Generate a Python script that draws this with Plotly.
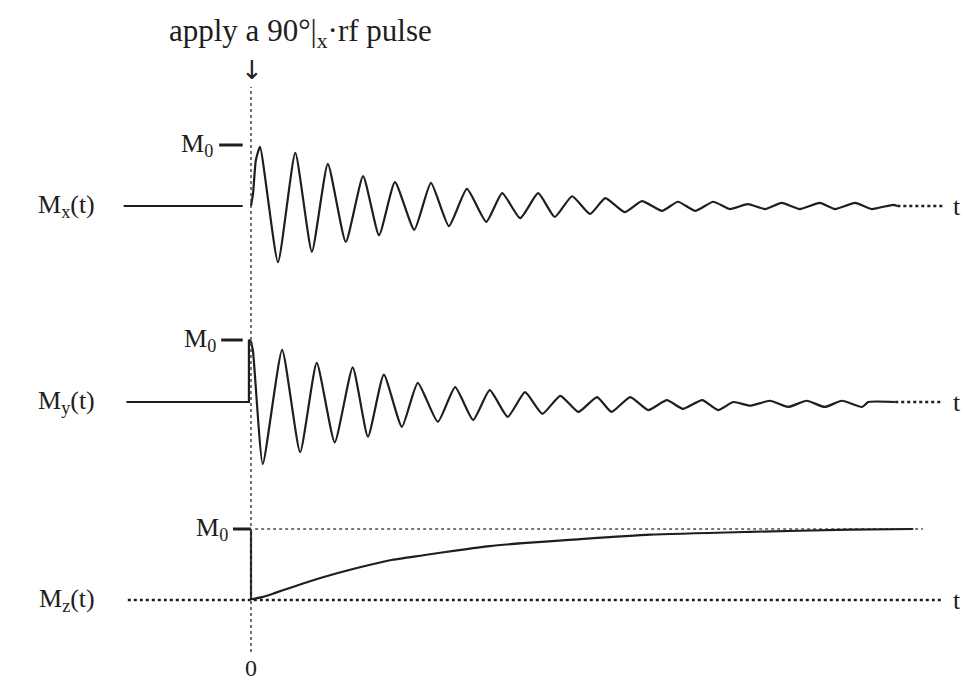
import plotly.graph_objects as go

# ---------------- data (time in arbitrary units, t=0 at the pulse; M in units of M0) -------------
# Mx(t): free induction decay (starts at 0)
mx_t = [0.00, 0.03, 0.07, 0.13, 0.39, 0.64, 0.88, 1.11, 1.37, 1.62, 1.85, 2.08, 2.36, 2.60, 2.86,
        3.12, 3.40, 3.63, 3.89, 4.15, 4.39, 4.64, 4.90, 5.12, 5.40, 5.65, 5.94, 6.17, 6.42, 6.68,
        6.92, 7.18, 7.43, 7.67, 7.93, 8.22, 8.44, 8.73, 8.97, 9.28, 9.34]
mx_v = [0.00, 0.21, 0.75, 0.97, -0.92, 0.87, -0.75, 0.69, -0.59, 0.49, -0.48, 0.39, -0.39, 0.38, -0.33,
        0.28, -0.26, 0.21, -0.20, 0.21, -0.18, 0.16, -0.13, 0.13, -0.10, 0.08, -0.08, 0.07, -0.08, 0.07,
        -0.05, 0.03, -0.05, 0.05, -0.05, 0.05, -0.05, 0.05, -0.05, 0.02, 0.00]

# My(t): starts at M0
my_t = [0.00, 0.03, 0.17, 0.45, 0.71, 0.95, 1.21, 1.47, 1.69, 1.92, 2.18, 2.41, 2.70, 2.95, 3.21,
        3.45, 3.71, 3.96, 4.21, 4.47, 4.73, 5.00, 5.21, 5.48, 5.74, 6.01, 6.24, 6.52, 6.75, 6.97,
        7.21, 7.50, 7.76, 8.03, 8.29, 8.54, 8.83, 8.92, 9.31]
my_v = [0.98, 0.81, -1.00, 0.84, -0.81, 0.63, -0.65, 0.56, -0.56, 0.44, -0.40, 0.31, -0.32, 0.24, -0.29,
        0.19, -0.24, 0.16, -0.19, 0.10, -0.16, 0.08, -0.16, 0.08, -0.13, 0.03, -0.11, 0.03, -0.13, 0.00,
        -0.06, 0.02, -0.08, 0.02, -0.08, 0.02, -0.08, 0.00, 0.00]

# Mz(t): recovery towards M0
mz_t = [0.00, 0.16, 0.35, 0.56, 1.04, 1.53, 2.01, 2.49, 2.98, 3.45, 3.93, 4.65, 5.77, 7.21, 8.66, 9.57]
mz_v = [0.01, 0.04, 0.10, 0.17, 0.32, 0.45, 0.56, 0.63, 0.70, 0.76, 0.80, 0.85, 0.92, 0.96, 0.99, 1.00]

t_start = -1.84      # start of the pre-pulse baselines
t_end = 10.0         # end of the traces
t_mx_pre_end = -0.12
t_mz_ref_start = 0.06
t_mz_ref_end = 9.71

# ---------------- layout helpers -------------
W, H = 963, 685
px_per_t = 69.2
x0_px = 251
x_range = [-x0_px / px_per_t, (W - x0_px) / px_per_t]


def y_range(base_px, m0_px):
    s = base_px - m0_px
    return [-(H - base_px) / s, base_px / s]


INK = "#1e1e1e"
FONT = "Liberation Serif"

fig = go.Figure()

line = dict(color=INK, width=2.2)
dotted = dict(color=INK, width=2.4, dash="dot")
dotted_light = dict(color="#777777", width=2, dash="dot")

# Mx
fig.add_trace(go.Scatter(x=[t_start, t_mx_pre_end], y=[0, 0], mode="lines", line=line, yaxis="y"))
fig.add_trace(go.Scatter(x=mx_t, y=mx_v, mode="lines", line=dict(line, shape="spline", smoothing=0.5),
                         yaxis="y"))
fig.add_trace(go.Scatter(x=[mx_t[-1], t_end], y=[0, 0], mode="lines", line=dotted, yaxis="y"))

# My
fig.add_trace(go.Scatter(x=[t_start + 0.04, -0.03, -0.03, 0.0], y=[0, 0, 1.0, my_v[0]], mode="lines",
                         line=line, yaxis="y2"))
fig.add_trace(go.Scatter(x=my_t, y=my_v, mode="lines", line=dict(line, shape="spline", smoothing=0.5),
                         yaxis="y2"))
fig.add_trace(go.Scatter(x=[my_t[-1], t_end], y=[0, 0], mode="lines", line=dotted, yaxis="y2"))

# Mz
fig.add_trace(go.Scatter(x=[t_start + 0.06, t_end], y=[0, 0], mode="lines", line=dotted, yaxis="y3"))
fig.add_trace(go.Scatter(x=[t_mz_ref_start, t_mz_ref_end], y=[1, 1], mode="lines", line=dotted_light,
                         yaxis="y3"))
fig.add_trace(go.Scatter(x=[0, 0], y=[1, 0], mode="lines", line=line, yaxis="y3"))
fig.add_trace(go.Scatter(x=mz_t, y=mz_v, mode="lines", line=dict(line, shape="spline", smoothing=0.6),
                         yaxis="y3"))

# M0 tick dashes
for yref, a, b in [("y", -0.46, -0.12), ("y2", -0.43, -0.12), ("y3", -0.26, 0.0)]:
    fig.add_shape(type="line", xref="x", yref=yref, x0=a, x1=b, y0=1, y1=1,
                  line=dict(color=INK, width=3))

# vertical dotted line at t = 0
fig.add_shape(type="line", xref="x", yref="paper", x0=0, x1=0, y0=1 - 652 / H, y1=1 - 87 / H,
              line=dict(color="#444444", width=1.5, dash="dot"))

# labels
lab = dict(family=FONT, size=26, color=INK)
for yref, name in [("y", "x"), ("y2", "y"), ("y3", "z")]:
    fig.add_annotation(x=-2.22, y=0, xref="x", yref=yref, text=f"M<sub>{name}</sub>(t)",
                       showarrow=False, xanchor="right", yanchor="middle", font=lab)
    fig.add_annotation(x=1.0, y=0, xref="paper", yref=yref, text="t", showarrow=False,
                       xanchor="right", yanchor="middle", font=lab)
for yref, xr in [("y", -0.52), ("y2", -0.47), ("y3", -0.31)]:
    fig.add_annotation(x=xr, y=1, xref="x", yref=yref, text="M<sub>0</sub>", showarrow=False,
                       xanchor="right", yanchor="middle", font=lab)

fig.add_annotation(x=0, y=1 - 668 / H, xref="x", yref="paper", text="0", showarrow=False,
                   xanchor="center", yanchor="middle", font=dict(family=FONT, size=24, color=INK))
fig.add_annotation(x=0.02, y=1 - 70 / H, xref="x", yref="paper", text="↓", showarrow=False,
                   xanchor="center", yanchor="middle", font=dict(family="DejaVu Sans", size=26, color=INK))
fig.add_annotation(x=0.71, y=1 - 33 / H, xref="x", yref="paper",
                   text="apply a 90°|<sub>x</sub>·rf pulse", showarrow=False,
                   xanchor="center", yanchor="middle", font=dict(family=FONT, size=31, color=INK))

hidden = dict(visible=False, showgrid=False, zeroline=False, fixedrange=True)
fig.update_layout(
    width=W, height=H,
    margin=dict(l=0, r=0, t=0, b=0),
    paper_bgcolor="white", plot_bgcolor="white",
    showlegend=False,
    xaxis=dict(hidden, range=x_range),
    yaxis=dict(hidden, range=y_range(206, 145), domain=[0, 1]),
    yaxis2=dict(hidden, range=y_range(402, 340), overlaying="y", domain=[0, 1]),
    yaxis3=dict(hidden, range=y_range(600, 529), overlaying="y", domain=[0, 1]),
)

fig.write_html("out.html")
